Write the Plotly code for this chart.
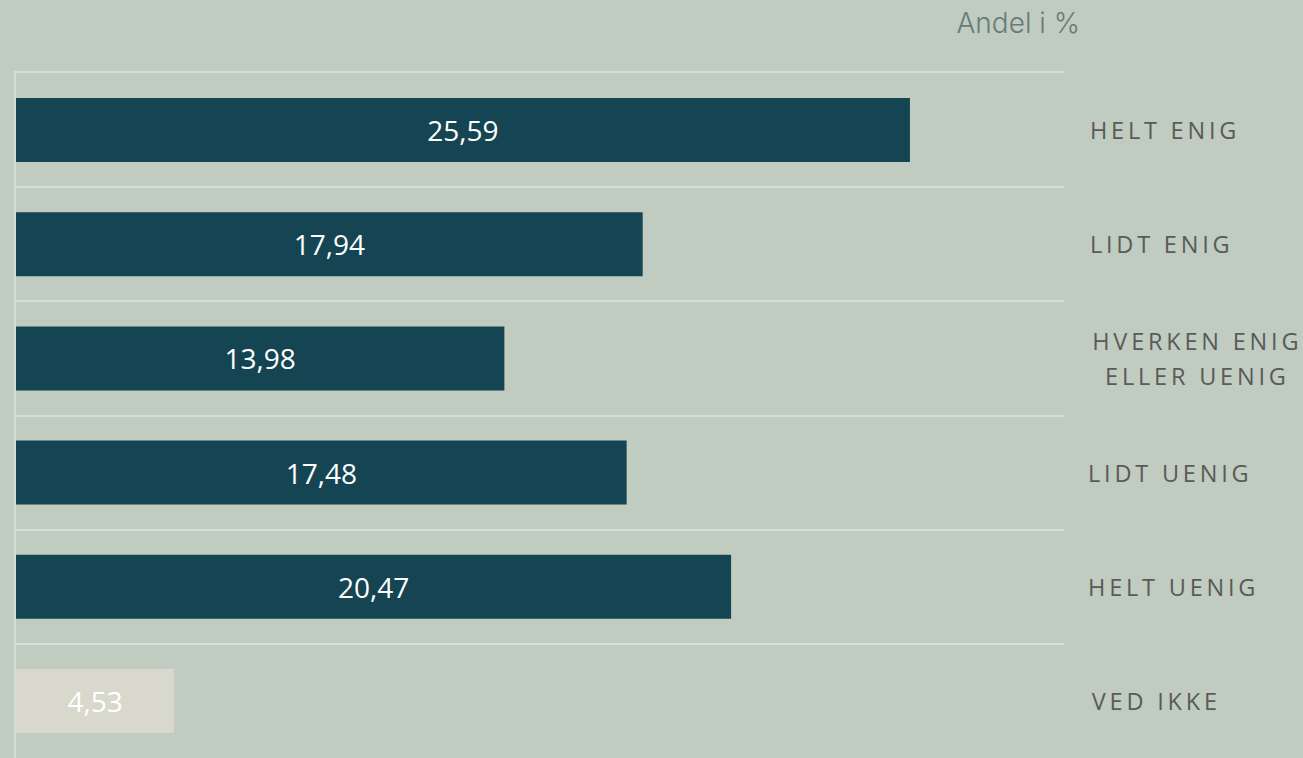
import plotly.graph_objects as go

label_lines = [["HELT ENIG"], ["LIDT ENIG"], ["HVERKEN ENIG", "ELLER UENIG"],
               ["LIDT UENIG"], ["HELT UENIG"], ["VED IKKE"]]
categories = ["<br>".join(lines) for lines in label_lines]
values = [25.59, 17.94, 13.98, 17.48, 20.47, 4.53]
value_labels = ["25,59", "17,94", "13,98", "17,48", "20,47", "4,53"]
bar_colors = ["#154552", "#154552", "#154552", "#154552", "#154552", "#D9D8CD"]
title_text = "Andel i %"

BG = "#BFCCBF"
GRID = "#D9DCD5"
LABEL_FONT = dict(family="Open Sans", size=23.5, color="#5A5A5A")

fig = go.Figure()
fig.add_trace(go.Bar(
    x=values,
    y=categories,
    orientation="h",
    width=0.56,
    marker=dict(color=bar_colors, line=dict(width=0)),
    text=value_labels,
    textposition="inside",
    insidetextanchor="middle",
    textangle=0,
    textfont=dict(family="Open Sans", size=28, color="#FFFFFF"),
    hoverinfo="skip",
))

for cat, lines in zip(categories, label_lines):
    if len(lines) == 1:
        fig.add_annotation(
            x=1.0395, xref="paper", y=cat, yref="y",
            text=lines[0], showarrow=False, xanchor="left", yanchor="middle",
            font=LABEL_FONT,
        )
    else:
        n = len(lines)
        for i, line in enumerate(lines):
            fig.add_annotation(
                x=1.127, xref="paper", y=cat, yref="y",
                yshift=(n - 1) / 2 * 35 - i * 35,
                text=line, showarrow=False, xanchor="center", yanchor="middle",
                font=LABEL_FONT,
            )

fig.update_layout(
    width=1303, height=758,
    paper_bgcolor=BG, plot_bgcolor=BG,
    margin=dict(l=16, r=239, t=73, b=0),
    showlegend=False,
    bargap=0.44,
    uniformtext=dict(minsize=10, mode="show"),
    title=dict(text=title_text, x=1080 / 1303, xref="container", xanchor="right",
               y=1 - 23 / 758, yref="container", yanchor="middle",
               font=dict(family="Inter", size=28, color="#6A7A7A", weight=300)),
)
fig.update_xaxes(range=[0, 30], showgrid=False, zeroline=False, showticklabels=False,
                 side="top", showline=True, linecolor=GRID, linewidth=2, ticks="")
fig.update_yaxes(categoryorder="array", categoryarray=categories, autorange="reversed",
                 showticklabels=False, ticks="", tickson="boundaries",
                 showgrid=True, gridcolor=GRID, gridwidth=2,
                 showline=True, linecolor=GRID, linewidth=2, zeroline=False)

post = """
var st = document.createElement('style');
st.innerHTML = 'html,body{margin:0;padding:0;overflow:hidden;} .annotation-text{letter-spacing:3.8px;}';
document.head.appendChild(st);
var gd = document.querySelector('.plotly-graph-div');
Plotly.newPlot(gd, gd.data, gd.layout, {displayModeBar: false, responsive: true});
"""
fig.write_html("out.html", post_script=post, config=dict(displayModeBar=False))
